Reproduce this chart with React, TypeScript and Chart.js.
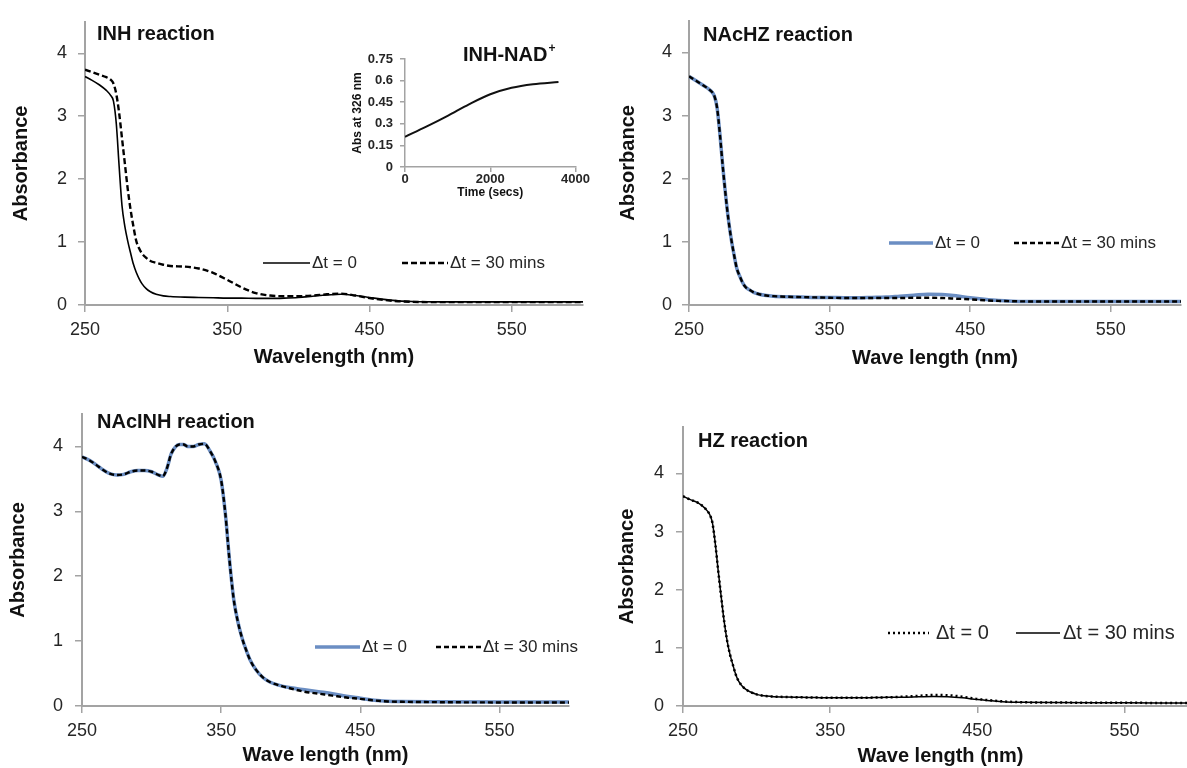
import React, { useEffect, useRef } from "react";
import { Chart, registerables } from "chart.js";

Chart.register(...registerables);

// ---------------- data ----------------
const WAVELENGTH_NM = [
  250, 255, 260, 265, 268, 270, 272, 274, 276, 278,
  280, 282, 284, 286, 288, 290, 293, 296, 300, 305,
  310, 320, 330, 340, 350, 360, 370, 380, 390, 400,
  410, 420, 430, 440, 450, 460, 470, 480, 500, 550,
  600,
];
const INH_T0 = [
  3.63, 3.57, 3.5, 3.41, 3.33, 3.24, 2.88, 2.2, 1.58, 1.25,
  1.02, 0.83, 0.65, 0.52, 0.42, 0.34, 0.26, 0.21, 0.17, 0.145,
  0.135, 0.125, 0.12, 0.115, 0.11, 0.11, 0.105, 0.105, 0.11, 0.12,
  0.14, 0.16, 0.17, 0.15, 0.12, 0.09, 0.065, 0.055, 0.05, 0.05,
  0.05,
];
const INH_T30 = [
  3.74, 3.7, 3.66, 3.62, 3.58, 3.52, 3.35, 3.05, 2.65, 2.25,
  1.85, 1.52, 1.25, 1.02, 0.9, 0.82, 0.75, 0.7, 0.67, 0.64,
  0.62, 0.61, 0.58, 0.51, 0.4, 0.28, 0.19, 0.15, 0.14, 0.14,
  0.15, 0.17, 0.18, 0.15, 0.11, 0.08, 0.06, 0.05, 0.045, 0.045,
  0.045,
];
const NACHZ_T0 = [
  3.62, 3.55, 3.48, 3.4, 3.31, 3.12, 2.7, 2.2, 1.75, 1.36,
  1.05, 0.8, 0.58, 0.46, 0.36, 0.29, 0.24, 0.2, 0.17, 0.15,
  0.14, 0.13, 0.125, 0.12, 0.12, 0.115, 0.115, 0.12, 0.125, 0.14,
  0.155, 0.17, 0.165, 0.145, 0.115, 0.09, 0.07, 0.06, 0.055, 0.055,
  0.055,
];
const NACHZ_T30 = [
  3.62, 3.55, 3.48, 3.4, 3.31, 3.12, 2.7, 2.2, 1.75, 1.36,
  1.05, 0.8, 0.58, 0.46, 0.36, 0.29, 0.24, 0.2, 0.17, 0.15,
  0.14, 0.13, 0.125, 0.12, 0.115, 0.11, 0.11, 0.11, 0.11, 0.11,
  0.115, 0.115, 0.11, 0.1, 0.09, 0.075, 0.065, 0.06, 0.055, 0.055,
  0.055,
];
const NACINH_WAVELENGTH_NM = [
  250, 255, 260, 265, 270, 275, 280, 285, 290, 295,
  300, 305, 308, 311, 314, 317, 320, 323, 326, 330,
  334, 338, 342, 346, 350, 353, 356, 359, 362, 365,
  368, 371, 375, 380, 385, 390, 400, 410, 420, 430,
  440, 450, 460, 470, 480, 500, 550, 600,
];
const NACINH_T0 = [
  3.84, 3.79, 3.72, 3.64, 3.58, 3.56, 3.57, 3.61, 3.63, 3.63,
  3.61, 3.56, 3.54, 3.66, 3.88, 3.99, 4.03, 4.03, 4.0, 4.0,
  4.03, 4.04, 3.93, 3.76, 3.48, 2.97, 2.25, 1.65, 1.3, 1.05,
  0.86, 0.7, 0.56, 0.44, 0.37, 0.33, 0.28, 0.25, 0.22, 0.19,
  0.15, 0.12, 0.09, 0.075, 0.07, 0.065, 0.06, 0.06,
];
const NACINH_T30 = [
  3.84, 3.79, 3.72, 3.64, 3.58, 3.56, 3.57, 3.61, 3.63, 3.63,
  3.61, 3.56, 3.54, 3.66, 3.88, 3.99, 4.03, 4.03, 4.0, 4.0,
  4.03, 4.04, 3.93, 3.76, 3.48, 2.97, 2.25, 1.65, 1.3, 1.05,
  0.86, 0.7, 0.56, 0.44, 0.37, 0.33, 0.27, 0.22, 0.19, 0.16,
  0.13, 0.11, 0.085, 0.07, 0.065, 0.06, 0.055, 0.055,
];
const HZ_T0 = [
  3.61, 3.55, 3.5, 3.4, 3.3, 3.15, 2.78, 2.31, 1.87, 1.45,
  1.12, 0.88, 0.7, 0.53, 0.42, 0.35, 0.28, 0.24, 0.2, 0.175,
  0.165, 0.155, 0.15, 0.145, 0.14, 0.14, 0.14, 0.145, 0.15, 0.16,
  0.175, 0.19, 0.185, 0.16, 0.12, 0.095, 0.075, 0.065, 0.06, 0.055,
  0.05,
];
const HZ_T30 = [
  3.61, 3.55, 3.5, 3.4, 3.3, 3.15, 2.78, 2.31, 1.87, 1.45,
  1.12, 0.88, 0.7, 0.53, 0.42, 0.35, 0.28, 0.24, 0.2, 0.175,
  0.165, 0.155, 0.15, 0.145, 0.14, 0.14, 0.14, 0.145, 0.15, 0.15,
  0.16, 0.165, 0.16, 0.14, 0.11, 0.09, 0.07, 0.065, 0.06, 0.055,
  0.05,
];
const INSET_TIME_S = [0, 500, 1000, 1500, 2000, 2500, 3000, 3600];
const INSET_ABS_326 = [0.21, 0.28, 0.355, 0.435, 0.505, 0.55, 0.575, 0.59];

const WAVE_TICKS = [250, 350, 450, 550];
const ABS_TICKS = [0, 1, 2, 3, 4];
const TIME_TICKS = [0, 2000, 4000];
const INSET_ABS_TICKS = [0, 0.15, 0.3, 0.45, 0.6, 0.75];

const LABEL_T0 = "Δt = 0";
const LABEL_T30 = "Δt = 30 mins";

// ---------------- styling ----------------
const FONT = '"Liberation Sans", Arial, Helvetica, sans-serif';
const AXIS_COLOR = "#a3a3a3";
const TICK_TEXT = "#262626";
const TITLE_TEXT = "#111111";
const BLUE = "#6b8ec3";

interface Series {
  label: string;
  x: number[];
  y: number[];
  color: string;
  width: number;
  dash: number[];
  order: number;
}

interface PanelSpec {
  key: string;
  box: { left: number; top: number; width: number; height: number };
  yAxisW: number;
  xAxisH: number;
  padTop: number;
  padRight: number;
  xMin: number;
  xMax: number;
  xTicks: number[];
  yMin: number;
  yMax: number;
  yTicks: number[];
  xTitle: string;
  yTitle: string;
  axisTitleSize: number;
  xTitlePadBottom: number;
  yTitlePadTop: number;
  tickSize: number;
  tickBold: boolean;
  tickLen: number;
  xTickPad: number;
  yTickPad: number;
  borderWidth: number;
  series: Series[];
  title?: { text: string; sup?: string; x: number; y: number; size: number };
  legend?: { y: number; size: number; items: { x0: number; x1: number; tx: number }[] };
}

function makeOverlay(spec: PanelSpec) {
  return {
    id: "overlay_" + spec.key,
    afterDraw(chart: any) {
      const ctx: CanvasRenderingContext2D = chart.ctx;
      ctx.save();
      if (spec.title) {
        const t = spec.title;
        ctx.font = `bold ${t.size}px ${FONT}`;
        ctx.fillStyle = TITLE_TEXT;
        ctx.textBaseline = "middle";
        ctx.textAlign = "left";
        ctx.fillText(t.text, t.x, t.y);
        if (t.sup) {
          const w = ctx.measureText(t.text).width;
          ctx.font = `bold ${Math.round(t.size * 0.6)}px ${FONT}`;
          ctx.fillText(t.sup, t.x + w + 1, t.y - t.size * 0.32);
        }
      }
      if (spec.legend) {
        const lg = spec.legend;
        lg.items.forEach((it, i) => {
          const s = spec.series[i];
          ctx.beginPath();
          ctx.strokeStyle = s.color;
          ctx.lineWidth = s.width;
          ctx.setLineDash(s.dash);
          ctx.moveTo(it.x0, lg.y);
          ctx.lineTo(it.x1, lg.y);
          ctx.stroke();
          ctx.setLineDash([]);
          ctx.font = `${lg.size}px ${FONT}`;
          ctx.fillStyle = TICK_TEXT;
          ctx.textBaseline = "middle";
          ctx.textAlign = "left";
          ctx.fillText(s.label, it.tx, lg.y);
        });
      }
      ctx.restore();
    },
  };
}

function buildConfig(spec: PanelSpec): any {
  const tickFont = { family: FONT, size: spec.tickSize, weight: spec.tickBold ? "bold" : "normal" };
  const titleFont = { family: FONT, size: spec.axisTitleSize, weight: "bold" };
  const grid = {
    drawOnChartArea: false,
    drawTicks: true,
    tickLength: spec.tickLen,
    color: AXIS_COLOR,
    lineWidth: 1.5,
  };
  const border = { display: true, color: AXIS_COLOR, width: spec.borderWidth };
  return {
    type: "line",
    data: {
      datasets: spec.series.map((s) => ({
        label: s.label,
        data: s.x.map((x, i) => ({ x, y: s.y[i] })),
        borderColor: s.color,
        backgroundColor: s.color,
        borderWidth: s.width,
        borderDash: s.dash,
        pointRadius: 0,
        fill: false,
        cubicInterpolationMode: "monotone",
        order: s.order,
      })),
    },
    options: {
      responsive: false,
      animation: false,
      events: [],
      layout: { padding: { left: 0, top: spec.padTop, right: spec.padRight, bottom: 0 } },
      plugins: {
        legend: { display: false },
        tooltip: { enabled: false },
        title: { display: false },
      },
      scales: {
        x: {
          type: "linear",
          min: spec.xMin,
          max: spec.xMax,
          afterBuildTicks: (scale: any) => {
            scale.ticks = spec.xTicks.map((v) => ({ value: v }));
          },
          afterFit: (scale: any) => {
            scale.height = spec.xAxisH;
          },
          grid,
          border,
          ticks: {
            font: tickFont,
            color: TICK_TEXT,
            padding: spec.xTickPad,
            maxRotation: 0,
            autoSkip: false,
            callback: (v: any) => String(v),
          },
          title: {
            display: true,
            text: spec.xTitle,
            font: titleFont,
            color: TITLE_TEXT,
            padding: { top: 0, bottom: spec.xTitlePadBottom },
          },
        },
        y: {
          type: "linear",
          min: spec.yMin,
          max: spec.yMax,
          afterBuildTicks: (scale: any) => {
            scale.ticks = spec.yTicks.map((v) => ({ value: v }));
          },
          afterFit: (scale: any) => {
            scale.width = spec.yAxisW;
          },
          grid,
          border,
          ticks: {
            font: tickFont,
            color: TICK_TEXT,
            padding: spec.yTickPad,
            autoSkip: false,
            callback: (v: any) => String(v),
          },
          title: {
            display: true,
            text: spec.yTitle,
            font: titleFont,
            color: TITLE_TEXT,
            padding: { top: spec.yTitlePadTop, bottom: 0 },
          },
        },
      },
    },
    plugins: [makeOverlay(spec)],
  };
}

const MAIN_COMMON = {
  xMin: 250,
  xMax: 600,
  xTicks: WAVE_TICKS,
  yMin: 0,
  yTicks: ABS_TICKS,
  yTitle: "Absorbance",
  axisTitleSize: 20,
  tickSize: 18,
  tickBold: false,
  tickLen: 7,
  xTickPad: 7,
  borderWidth: 2,
};

const PANELS: PanelSpec[] = [
  {
    ...MAIN_COMMON,
    key: "inh",
    box: { left: 0, top: 0, width: 593, height: 380 },
    yAxisW: 85,
    xAxisH: 75,
    padTop: 13,
    padRight: 10,
    yMax: 4.5,
    xTitle: "Wavelength (nm)",
    xTitlePadBottom: 11,
    yTitlePadTop: 9,
    yTickPad: 11,
    series: [
      { label: LABEL_T0, x: WAVELENGTH_NM, y: INH_T0, color: "#000000", width: 1.6, dash: [], order: 1 },
      { label: LABEL_T30, x: WAVELENGTH_NM, y: INH_T30, color: "#000000", width: 2.4, dash: [6, 3], order: 0 },
    ],
    title: { text: "INH reaction", x: 97, y: 34, size: 20 },
    legend: {
      y: 263,
      size: 17,
      items: [
        { x0: 263, x1: 310, tx: 312 },
        { x0: 402, x1: 448, tx: 450 },
      ],
    },
  },
  {
    ...MAIN_COMMON,
    key: "nachz",
    box: { left: 600, top: 0, width: 587, height: 380 },
    yAxisW: 89,
    xAxisH: 75,
    padTop: 13,
    padRight: 6,
    yMax: 4.5,
    xTitle: "Wave length (nm)",
    xTitlePadBottom: 10,
    yTitlePadTop: 16,
    yTickPad: 10,
    series: [
      { label: LABEL_T0, x: WAVELENGTH_NM, y: NACHZ_T0, color: BLUE, width: 3.5, dash: [], order: 1 },
      { label: LABEL_T30, x: WAVELENGTH_NM, y: NACHZ_T30, color: "#000000", width: 2.4, dash: [5, 3], order: 0 },
    ],
    title: { text: "NAcHZ reaction", x: 103, y: 35, size: 20 },
    legend: {
      y: 243,
      size: 17,
      items: [
        { x0: 289, x1: 333, tx: 335 },
        { x0: 414, x1: 459, tx: 461 },
      ],
    },
  },
  {
    ...MAIN_COMMON,
    key: "nacinh",
    box: { left: 0, top: 384, width: 590, height: 384 },
    yAxisW: 82,
    xAxisH: 62,
    padTop: 30,
    padRight: 21,
    yMax: 4.5,
    xTitle: "Wave length (nm)",
    xTitlePadBottom: 1,
    yTitlePadTop: 6,
    yTickPad: 12,
    series: [
      { label: LABEL_T0, x: NACINH_WAVELENGTH_NM, y: NACINH_T0, color: BLUE, width: 3.5, dash: [], order: 1 },
      { label: LABEL_T30, x: NACINH_WAVELENGTH_NM, y: NACINH_T30, color: "#000000", width: 2.4, dash: [5, 3], order: 0 },
    ],
    title: { text: "NAcINH reaction", x: 97, y: 38, size: 20 },
    legend: {
      y: 263,
      size: 17,
      items: [
        { x0: 315, x1: 360, tx: 362 },
        { x0: 436, x1: 481, tx: 483 },
      ],
    },
  },
  {
    ...MAIN_COMMON,
    key: "hz",
    box: { left: 600, top: 384, width: 608, height: 384 },
    yAxisW: 83,
    xAxisH: 62,
    padTop: 43,
    padRight: 10,
    yMax: 4.8,
    xTitle: "Wave length (nm)",
    xTitlePadBottom: 0,
    yTitlePadTop: 15,
    yTickPad: 12,
    series: [
      { label: LABEL_T0, x: WAVELENGTH_NM, y: HZ_T0, color: "#000000", width: 2.5, dash: [2, 3], order: 0 },
      { label: LABEL_T30, x: WAVELENGTH_NM, y: HZ_T30, color: "#000000", width: 1.5, dash: [], order: 1 },
    ],
    title: { text: "HZ reaction", x: 98, y: 57, size: 20 },
    legend: {
      y: 249,
      size: 20,
      items: [
        { x0: 288, x1: 329, tx: 336 },
        { x0: 416, x1: 460, tx: 463 },
      ],
    },
  },
  {
    key: "inset",
    box: { left: 345, top: 30, width: 245, height: 185 },
    yAxisW: 60,
    xAxisH: 48,
    padTop: 29,
    padRight: 11,
    xMin: 0,
    xMax: 4000,
    xTicks: TIME_TICKS,
    yMin: 0,
    yMax: 0.75,
    yTicks: INSET_ABS_TICKS,
    xTitle: "Time (secs)",
    yTitle: "Abs at 326 nm",
    axisTitleSize: 12,
    xTitlePadBottom: 15,
    yTitlePadTop: 5,
    tickSize: 13,
    tickBold: true,
    tickLen: 5,
    xTickPad: 0,
    yTickPad: 7,
    borderWidth: 1.5,
    series: [
      { label: "INH-NAD+", x: INSET_TIME_S, y: INSET_ABS_326, color: "#111111", width: 2, dash: [], order: 0 },
    ],
    title: { text: "INH-NAD", sup: "+", x: 118, y: 25, size: 20 },
  },
];

function PanelChart({ spec }: { spec: PanelSpec }) {
  const ref = useRef<HTMLCanvasElement | null>(null);
  useEffect(() => {
    if (!ref.current) return;
    const chart = new Chart(ref.current, buildConfig(spec));
    return () => chart.destroy();
  }, [spec]);
  const { left, top, width, height } = spec.box;
  return (
    <canvas
      ref={ref}
      width={width}
      height={height}
      style={{ position: "absolute", left, top, width, height }}
    />
  );
}

export default function App() {
  return (
    <div
      style={{
        position: "fixed",
        left: 0,
        top: 0,
        width: 1187,
        height: 768,
        overflow: "hidden",
        background: "#ffffff",
      }}
    >
      {PANELS.map((p) => (
        <PanelChart key={p.key} spec={p} />
      ))}
    </div>
  );
}
